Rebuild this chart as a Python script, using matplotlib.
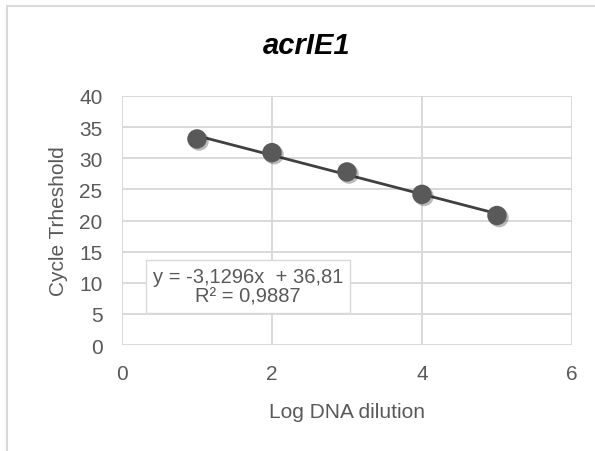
import numpy as np
import matplotlib.pyplot as plt
import matplotlib.patheffects as pe
from matplotlib.patches import Rectangle

# Standard curve, acrIE1
log_dilution = [1, 2, 3, 4, 5]
cycle_threshold = [33.1, 30.9, 27.8, 24.2, 20.8]
x_ticks = [0, 2, 4, 6]
y_ticks = [0, 5, 10, 15, 20, 25, 30, 35, 40]

plt.rcParams['font.family'] = ['Liberation Sans', 'DejaVu Sans']

fig = plt.figure(figsize=(5.95, 4.52), dpi=100)
ax = fig.add_axes([0.2050, 0.2345, 0.7563, 0.5509])

# outer chart frame
fig.patches.append(Rectangle((7 / 595, -0.1), 1.2, 1 - 7 / 452 + 0.1,
                             transform=fig.transFigure, fill=False,
                             edgecolor='#d9d9d9', linewidth=1.5))

# linear trendline over the data range
slope, intercept = np.polyfit(log_dilution, cycle_threshold, 1)
xs = np.array([min(log_dilution), max(log_dilution)])
ax.plot(xs, slope * xs + intercept, color='#404040', linewidth=2, zorder=3)

ax.plot(log_dilution, cycle_threshold, 'o', color='#595959', markersize=14,
        markeredgewidth=0, zorder=4,
        path_effects=[pe.SimplePatchShadow(offset=(1.5, -1.5), alpha=0.3),
                      pe.Normal()])

ax.set_xlim(0, 6)
ax.set_ylim(0, 40)
ax.set_xticks(x_ticks)
ax.set_yticks(y_ticks)
ax.grid(True, color='#d9d9d9', linewidth=1.4)
ax.set_axisbelow(True)
for s in ax.spines.values():
    s.set_visible(False)
ax.tick_params(length=0, labelsize=15, labelcolor='#595959', pad=14)

fig.text(307 / 595, 1 - 46 / 452, 'acrIE1', fontsize=21, fontweight='bold',
         style='italic', color='black', ha='center', va='center')
ax.set_xlabel('Log DNA dilution', fontsize=15, color='#595959', labelpad=13)
ax.set_ylabel('Cycle Trheshold', fontsize=15, color='#595959', labelpad=8)

eq = 'y = -3,1296x  + 36,81\nR² = 0,9887'
ax.text(1.68, 9.4, eq, ha='center', va='center', fontsize=14.5,
        color='#595959', linespacing=1.05, zorder=5,
        bbox=dict(boxstyle='square,pad=0.35', facecolor='white',
                  edgecolor='#d9d9d9', linewidth=1))

fig.savefig('out.png', dpi=100, facecolor='white')
